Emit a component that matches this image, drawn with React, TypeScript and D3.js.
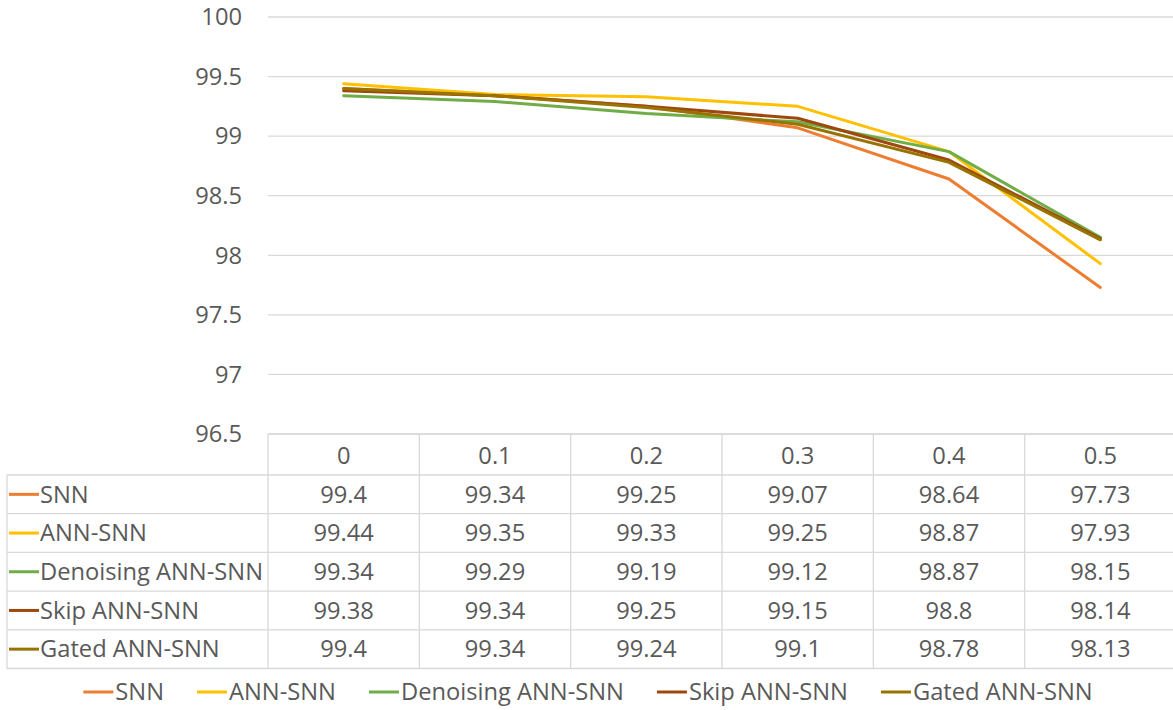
import React from "react";
import * as d3 from "d3";

// Noise level categories (x axis / table header)
const noiseLevels = ["0", "0.1", "0.2", "0.3", "0.4", "0.5"];

// Accuracy (%) per model at each noise level
const snn = [99.4, 99.34, 99.25, 99.07, 98.64, 97.73];
const annSnn = [99.44, 99.35, 99.33, 99.25, 98.87, 97.93];
const denoisingAnnSnn = [99.34, 99.29, 99.19, 99.12, 98.87, 98.15];
const skipAnnSnn = [99.38, 99.34, 99.25, 99.15, 98.8, 98.14];
const gatedAnnSnn = [99.4, 99.34, 99.24, 99.1, 98.78, 98.13];

const seriesNames = ["SNN", "ANN-SNN", "Denoising ANN-SNN", "Skip ANN-SNN", "Gated ANN-SNN"];
const seriesColors = ["#ED7D31", "#FFC000", "#70AD47", "#9E480E", "#997300"];
const seriesValues = [snn, annSnn, denoisingAnnSnn, skipAnnSnn, gatedAnnSnn];

const yTicks = [96.5, 97, 97.5, 98, 98.5, 99, 99.5, 100];

const W = 1173;
const H = 710;
const FONT = "'Open Sans', sans-serif";
const FONT_SIZE = 23.7;
const TEXT = "#595959";
const GRID = "#D9D9D9";

function measure(text: string): number {
  const c = document.createElement("canvas").getContext("2d");
  if (!c) return text.length * FONT_SIZE * 0.55;
  c.font = `${FONT_SIZE}px 'Open Sans', sans-serif`;
  return c.measureText(text).width;
}

export default function App() {
  const plotLeft = 268;
  const plotRight = 1176;
  const plotTop = 17;
  const plotBottom = 434;

  const x = d3.scaleBand<string>().domain(noiseLevels).range([plotLeft, plotRight]);
  const y = d3.scaleLinear().domain([96.5, 100]).range([plotBottom, plotTop]);

  const line = d3
    .line<number>()
    .x((_, i) => (x(noiseLevels[i]) as number) + x.bandwidth() / 2)
    .y((v) => y(v));

  // data table geometry
  const tableLeft = 7;
  const headerTop = plotBottom;
  const headerBottom = 475;
  const rowH = 38.7;
  const tableBottom = headerBottom + rowH * seriesNames.length;

  // legend layout
  const keyLen = 30;
  const keyGap = 2;
  const itemGap = 33;
  const widths = seriesNames.map((n) => keyLen + keyGap + measure(n));
  const totalW = d3.sum(widths) + itemGap * (widths.length - 1);
  let cursor = 588 - totalW / 2;
  const legendItems = seriesNames.map((n, i) => {
    const item = { name: n, color: seriesColors[i], x: cursor };
    cursor += widths[i] + itemGap;
    return item;
  });
  const legendY = 692;

  return (
    <svg
      width={W}
      height={H}
      style={{ position: "absolute", left: 0, top: 0, background: "#fff" }}
      fontFamily={FONT}
      fontSize={FONT_SIZE}
    >
      {/* horizontal gridlines */}
      {yTicks.map((t) => (
        <line key={`g${t}`} x1={plotLeft} x2={W} y1={y(t)} y2={y(t)} stroke={GRID} strokeWidth={1.3} />
      ))}
      {/* y axis labels */}
      {yTicks.map((t) => (
        <text key={`y${t}`} x={242} y={y(t)} dy="0.35em" textAnchor="end" fill={TEXT}>
          {t}
        </text>
      ))}

      {/* data table grid */}
      <g stroke={GRID} strokeWidth={1.3} fill="none">
        <line x1={plotLeft} x2={W} y1={headerTop} y2={headerTop} />
        {seriesNames.map((_, i) => (
          <line key={`r${i}`} x1={tableLeft} x2={W} y1={headerBottom + rowH * i} y2={headerBottom + rowH * i} />
        ))}
        <line x1={tableLeft} x2={W} y1={tableBottom} y2={tableBottom} />
        <line x1={tableLeft} x2={tableLeft} y1={headerBottom} y2={tableBottom} />
        {noiseLevels.map((c) => (
          <line key={`v${c}`} x1={x(c)} x2={x(c)} y1={headerTop} y2={tableBottom} />
        ))}
      </g>

      {/* header labels */}
      {noiseLevels.map((c) => (
        <text
          key={`h${c}`}
          x={(x(c) as number) + x.bandwidth() / 2}
          y={(headerTop + headerBottom) / 2 + 1}
          dy="0.35em"
          textAnchor="middle"
          fill={TEXT}
        >
          {c}
        </text>
      ))}

      {/* table rows */}
      {seriesNames.map((name, i) => {
        const cy = headerBottom + rowH * i + rowH / 2;
        return (
          <g key={`row${name}`}>
            <line x1={tableLeft + 2} x2={tableLeft + 2 + keyLen} y1={cy} y2={cy} stroke={seriesColors[i]} strokeWidth={3} />
            <text x={tableLeft + 2 + keyLen + 1} y={cy} dy="0.35em" fill={TEXT}>
              {name}
            </text>
            {seriesValues[i].map((v, j) => (
              <text
                key={`c${j}`}
                x={(x(noiseLevels[j]) as number) + x.bandwidth() / 2}
                y={cy}
                dy="0.35em"
                textAnchor="middle"
                fill={TEXT}
              >
                {v}
              </text>
            ))}
          </g>
        );
      })}

      {/* series lines */}
      {seriesValues.map((vals, i) => (
        <path
          key={`l${i}`}
          d={line(vals) as string}
          fill="none"
          stroke={seriesColors[i]}
          strokeWidth={3}
          strokeLinejoin="round"
          strokeLinecap="round"
        />
      ))}

      {/* legend */}
      {legendItems.map((it) => (
        <g key={`lg${it.name}`}>
          <line x1={it.x} x2={it.x + keyLen} y1={legendY} y2={legendY} stroke={it.color} strokeWidth={3} />
          <text x={it.x + keyLen + keyGap} y={legendY} dy="0.35em" fill={TEXT}>
            {it.name}
          </text>
        </g>
      ))}
    </svg>
  );
}
